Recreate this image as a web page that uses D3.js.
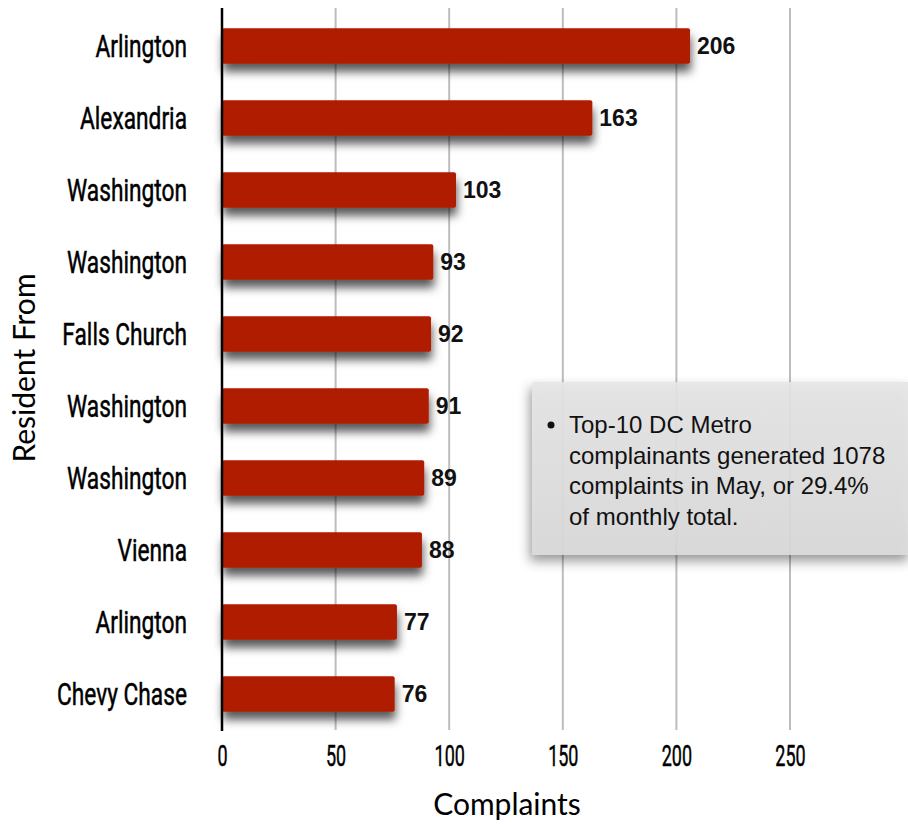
<!DOCTYPE html>
<html><head><meta charset="utf-8">
<script src="https://cdn.jsdelivr.net/npm/d3@7"></script>
<style>
html,body{margin:0;padding:0;background:#fff;}
svg{display:block;}
</style></head>
<body>
<svg id="c" width="908" height="825"></svg>
<script>
const categories = ["Arlington","Alexandria","Washington","Washington","Falls Church","Washington","Washington","Vienna","Arlington","Chevy Chase"];
const values = [206,163,103,93,92,91,89,88,77,76];
const xTicks = [0,50,100,150,200,250];
const noteLines = ["Top-10 DC Metro","complainants generated 1078","complaints in May, or 29.4%","of monthly total."];

const svg = d3.select("#c");
const condensed = "Roboto,'Noto Sans',sans-serif";
const x = d3.scaleLinear().domain([0,300]).range([222,903.6]);
const y = d3.scaleBand().domain(d3.range(categories.length)).range([10,730]).paddingInner(0.51).paddingOuter(0.255);

const defs = svg.append("defs");
const f = defs.append("filter").attr("id","sh").attr("x","-20%").attr("y","-50%").attr("width","140%").attr("height","260%");
f.append("feDropShadow").attr("dx",1).attr("dy",8).attr("stdDeviation",5).attr("flood-color","#000").attr("flood-opacity",0.65);
const f2 = defs.append("filter").attr("id","sh2").attr("x","-20%").attr("y","-30%").attr("width","140%").attr("height","170%");
f2.append("feDropShadow").attr("dx",-2).attr("dy",6).attr("stdDeviation",6).attr("flood-color","#000").attr("flood-opacity",0.45);
const g = defs.append("linearGradient").attr("id","lg").attr("x1",0).attr("y1",0).attr("x2",0).attr("y2",1);
g.append("stop").attr("offset","0%").attr("stop-color","#e6e6e6");
g.append("stop").attr("offset","100%").attr("stop-color","#dadada");

// gridlines
svg.append("g").selectAll("line").data(xTicks.filter(d=>d>0)).join("line")
  .attr("x1",d=>x(d)).attr("x2",d=>x(d)).attr("y1",8).attr("y2",730)
  .attr("stroke","#bdbdbd").attr("stroke-width",2);

// bars
svg.append("g").selectAll("rect").data(values).join("rect")
  .attr("x",x(0)).attr("y",(d,i)=>y(i)).attr("width",d=>x(d)-x(0)).attr("height",y.bandwidth())
  .attr("rx",2).attr("fill","#b01b00").attr("filter","url(#sh)");

// axis line
svg.append("line").attr("x1",x(0)).attr("x2",x(0)).attr("y1",8).attr("y2",731).attr("stroke","#000").attr("stroke-width",2.5);

// value labels
svg.append("g").selectAll("text").data(values).join("text")
  .attr("x",d=>x(d)+7).attr("y",(d,i)=>y(i)+y.bandwidth()/2).attr("dy","0.36em")
  .attr("font-family","'Liberation Sans',Arial,sans-serif").attr("font-weight","bold").attr("font-size",23)
  .attr("fill","#111").text(d=>d);

// category labels (condensed via horizontal scale)
svg.append("g").selectAll("text").data(categories).join("text")
  .attr("transform",(d,i)=>`translate(187,${y(i)+y.bandwidth()/2}) scale(0.71,1)`)
  .attr("dy","0.33em").attr("text-anchor","end")
  .attr("font-family",condensed).attr("font-size",32).attr("fill","#000")
  .attr("stroke","#000").attr("stroke-width",0.5).text(d=>d);

// x tick labels
const xAxis = d3.axisBottom(x).tickValues(xTicks).tickSize(0).tickPadding(0);
const ax = svg.append("g").attr("transform","translate(0,745)").call(xAxis);
ax.select(".domain").remove();
ax.selectAll(".tick text").attr("font-family",condensed).attr("font-size",30).attr("fill","#000")
  .attr("stroke","#000").attr("stroke-width",0.5)
  .attr("dy","0.71em").attr("transform","scale(0.6,1)");

// axis titles
svg.append("text").attr("x",507).attr("y",815).attr("text-anchor","middle")
  .attr("font-family","'Lato','Open Sans',sans-serif").attr("font-size",30).attr("fill","#000").text("Complaints");
svg.append("text").attr("transform","translate(35,368) rotate(-90)").attr("text-anchor","middle")
  .attr("font-family","'Lato','Open Sans',sans-serif").attr("font-size",30).attr("fill","#000").text("Resident From");

// note box
svg.append("rect").attr("x",532).attr("y",382).attr("width",378).attr("height",173)
  .attr("fill","url(#lg)").attr("fill-opacity",0.9).attr("filter","url(#sh2)");
svg.append("circle").attr("cx",551).attr("cy",425).attr("r",3.5).attr("fill","#111");
svg.append("g").selectAll("text").data(noteLines).join("text")
  .attr("x",569).attr("y",(d,i)=>433+i*30.7)
  .attr("font-family","'Liberation Sans',Arial,Helvetica,sans-serif").attr("font-size",24).attr("fill","#111").text(d=>d);
</script>
</body></html>
